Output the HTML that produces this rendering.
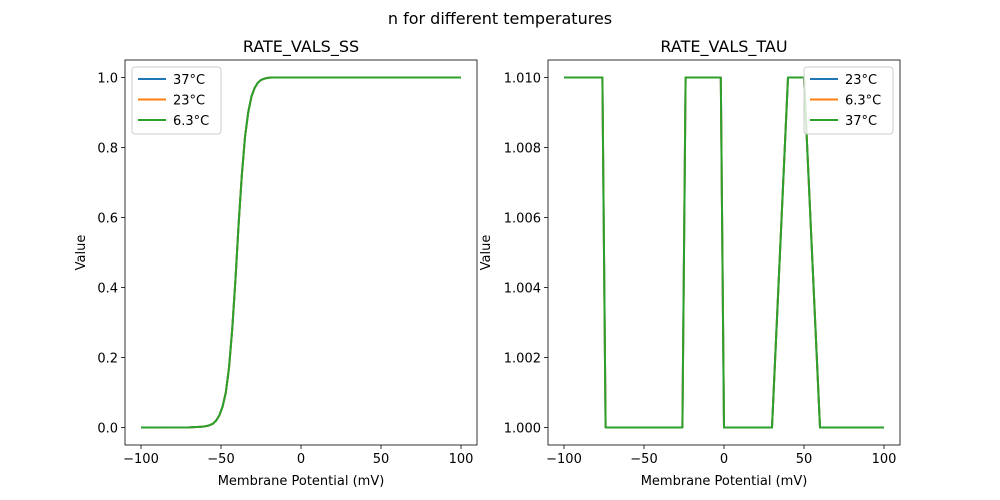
<!DOCTYPE html>
<html><head><meta charset="utf-8"><style>
body{margin:0;background:#fff}
svg{display:block;font-family:"DejaVu Sans","Liberation Sans",sans-serif}
</style></head><body>
<svg id="chart" width="1000" height="500"></svg>
<script>
const ssV = [-100,-70,-62,-58,-55,-53,-51,-49,-47,-45,-43,-41,-39,-37,-35,-33,-31,-29,-27,-25,-22,-19,100];
const ssY = [0,0.0003,0.002,0.005,0.011,0.02,0.035,0.06,0.1,0.17,0.28,0.42,0.58,0.72,0.83,0.9,0.945,0.97,0.985,0.993,0.998,1.0,1.0];
const tauV = [-100,-76,-74,-26,-24,-2,0,30,40,50,60,100];
const tauY = [1.01,1.01,1.0,1.0,1.01,1.01,1.0,1.0,1.01,1.01,1.0,1.0];
const xTicks = [-100,-50,0,50,100];
const ssTicks = [0,0.2,0.4,0.6,0.8,1.0];
const ssTickLabels = ["0.0","0.2","0.4","0.6","0.8","1.0"];
const tauTicks = [1.000,1.002,1.004,1.006,1.008,1.010];
const tauTickLabels = ["1.000","1.002","1.004","1.006","1.008","1.010"];
const legendL = ["37°C","23°C","6.3°C"];
const legendR = ["23°C","6.3°C","37°C"];
const colors = ["#1f77b4","#ff7f0e","#2ca02c"];
const NS="http://www.w3.org/2000/svg";
const svg=document.getElementById('chart');
function mk(tag,attrs,parent){const e=document.createElementNS(NS,tag);for(const k in attrs)e.setAttribute(k,attrs[k]);(parent||svg).appendChild(e);return e;}
function txt(s,attrs,parent){const e=mk('text',attrs,parent);e.textContent=s;return e;}
const t=txt("n for different temperatures",{x:500,y:24,'text-anchor':'middle','font-size':16});



function panel(name,L,R,T,B,xmin,xmax,ymin,ymax,yt,ytl,vx,vy,leg,title,legX,ylOff){
  const g=mk('g',{});
  
  
  const sx=v=>L+(v-xmin)/(xmax-xmin)*(R-L);
  const sy=v=>B-(v-ymin)/(ymax-ymin)*(B-T);
  const tt=txt(title,{x:(L+R)/2,y:T-8,'text-anchor':'middle','font-size':16},g);
  
  
  xTicks.forEach(v=>{const x=sx(v);mk('line',{x1:x,x2:x,y1:B,y2:B+4,stroke:'#000','stroke-width':0.8},g);
    const l=txt(String(v).replace('-','\u2212'),{x:x,y:B+18,'text-anchor':'middle','font-size':13},g);
    
    });
  yt.forEach((v,i)=>{const y=sy(v);mk('line',{x1:L-4,x2:L,y1:y,y2:y,stroke:'#000','stroke-width':0.8},g);
    const l=txt(ytl[i],{x:L-7,y:y+5,'text-anchor':'end','font-size':13},g);
    
    });
  const xl=txt("Membrane Potential (mV)",{x:(L+R)/2,y:B+40,'text-anchor':'middle','font-size':13},g);
  
  
  const yl=txt("Value",{x:0,y:0,'text-anchor':'middle','font-size':13,transform:`translate(${L-ylOff},${(T+B)/2}) rotate(-90)`},g);
  
  
  const pts=vx.map((v,i)=>sx(v).toFixed(2)+','+sy(vy[i]).toFixed(2)).join(' ');
  colors.forEach((c,i)=>{const p=mk('polyline',{points:pts,fill:'none',stroke:c,'stroke-width':2,'stroke-linejoin':'round'},g);
    
    });
  const fr=mk('rect',{x:L,y:T,width:R-L,height:B-T,fill:'none',stroke:'#000','stroke-width':0.8},g);
  
  
  const lg=mk('g',{},g);
  
  
  mk('rect',{x:legX,y:67,width:89,height:67,rx:3,fill:'#fff','fill-opacity':0.8,stroke:'#ccc'},lg);
  leg.forEach((s,i)=>{const y=79+i*20.5;
    mk('line',{x1:legX+6,x2:legX+34,y1:y,y2:y,stroke:colors[i],'stroke-width':2},lg);
    const e=txt(s,{x:legX+41,y:y+5,'font-size':13},lg);
    
    });
}
panel('left-panel',125,477,60,445,-110,110,-0.05,1.05,ssTicks,ssTickLabels,ssV,ssY,legendL,"RATE_VALS_SS",132,40);
panel('right-panel',548,900,60,445,-110,110,0.9995,1.0105,tauTicks,tauTickLabels,tauV,tauY,legendR,"RATE_VALS_TAU",804,58);
</script>
</body></html>
